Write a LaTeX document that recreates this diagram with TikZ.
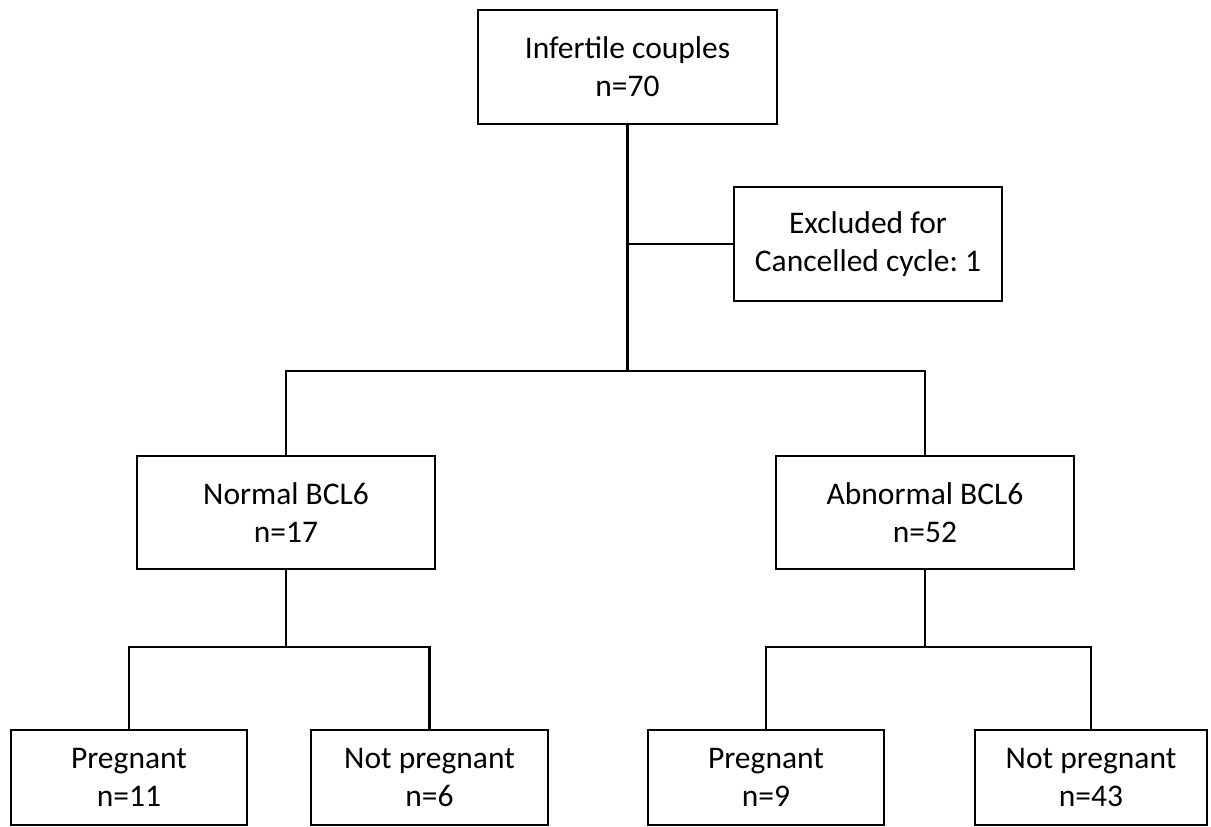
\documentclass[tikz,border=0pt]{standalone}
\usepackage{fontspec}
\setmainfont{Carlito}
\frenchspacing
\begin{document}
\begin{tikzpicture}[x=1pt,y=-1pt,
  box/.style={draw=black, line width=2.8pt, fill=white, inner sep=0pt, align=center,
    font=\fontsize{31.5}{38}\selectfont},
  link/.style={draw=black, line width=2.8pt}]
\useasboundingbox (0,0) rectangle (1211,827);
\node[box, minimum width=299pt, minimum height=114pt] (top) at (627.5,67) {Infertile couples\\n=70};
\node[box, minimum width=268pt, minimum height=114pt] (excl) at (868,244) {Excluded for\\Cancelled cycle: 1};
\node[box, minimum width=298pt, minimum height=113pt] (norm) at (286,512.5) {Normal BCL6\\n=17};
\node[box, minimum width=298pt, minimum height=113pt] (abn) at (925,512.5) {Abnormal BCL6\\n=52};
\node[box, minimum width=236pt, minimum height=95pt] (p1) at (129,777.5) {Pregnant\\n=11};
\node[box, minimum width=237pt, minimum height=95pt] (np1) at (429.5,777.5) {Not pregnant\\n=6};
\node[box, minimum width=236pt, minimum height=95pt] (p2) at (766,777.5) {Pregnant\\n=9};
\node[box, minimum width=232pt, minimum height=95pt] (np2) at (1091,777.5) {Not pregnant\\n=43};
\coordinate (j1) at (627.5,371);
\coordinate (j2) at (286,647);
\coordinate (j3) at (925,647);
\draw[link] (top.south) -- (j1);
\draw[link] (excl.west) -- (excl.west -| top.south);
\draw[link] (norm.north) -- (norm.north |- j1) -- (abn.north |- j1) -- (abn.north);
\draw[link] (norm.south) -- (j2);
\draw[link] (p1.north) -- (p1.north |- j2) -- (np1.north |- j2) -- (np1.north);
\draw[link] (abn.south) -- (j3);
\draw[link] (p2.north) -- (p2.north |- j3) -- (np2.north |- j3) -- (np2.north);
\end{tikzpicture}
\end{document}
